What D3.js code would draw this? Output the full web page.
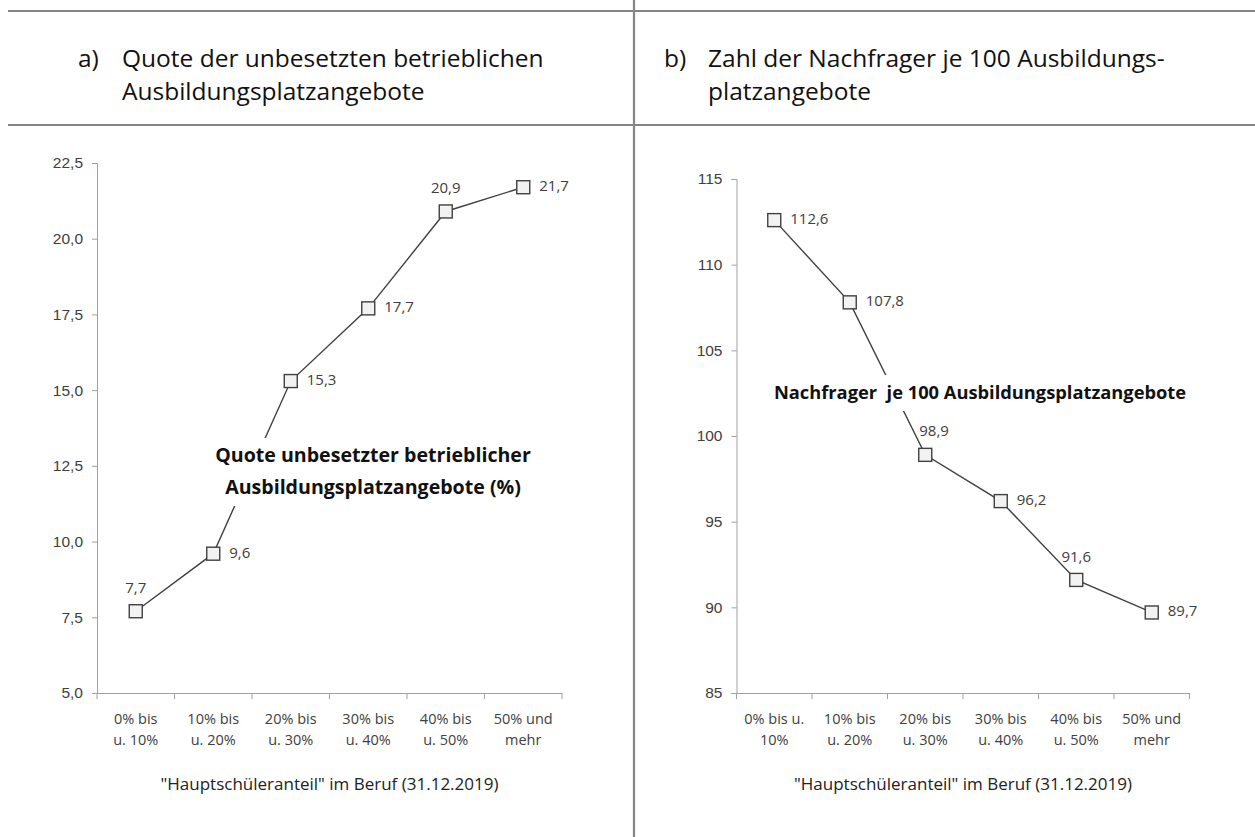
<!DOCTYPE html>
<html>
<head>
<meta charset="utf-8">
<script src="https://cdn.jsdelivr.net/npm/d3@7"></script>
<style>
  body { margin: 0; background: #fff; }
  svg { display: block; font-family: "Open Sans", "Noto Sans", sans-serif; }
</style>
</head>
<body>
<div id="chart"></div>
<script>
// Chart data
const categoriesA = [["0% bis", "u. 10%"], ["10% bis", "u. 20%"], ["20% bis", "u. 30%"], ["30% bis", "u. 40%"], ["40% bis", "u. 50%"], ["50% und", "mehr"]];
const categoriesB = [["0% bis u.", "10%"], ["10% bis", "u. 20%"], ["20% bis", "u. 30%"], ["30% bis", "u. 40%"], ["40% bis", "u. 50%"], ["50% und", "mehr"]];
const quoteUnbesetzt = [7.7, 9.6, 15.3, 17.7, 20.9, 21.7];
const nachfragerJe100 = [112.6, 107.8, 98.9, 96.2, 91.6, 89.7];
const ticksA = [5, 7.5, 10, 12.5, 15, 17.5, 20, 22.5];
const ticksB = [85, 90, 95, 100, 105, 110, 115];
const xAxisTitle = '"Hauptschüleranteil" im Beruf (31.12.2019)';

const W = 1255, H = 837;
const fmt = d3.format(",.1f");
const comma = v => fmt(v).replace(".", ",");

const svg = d3.select("#chart").append("svg")
  .attr("width", W)
  .attr("height", H);

// Frame lines (table-like layout)
const frame = svg.append("g").attr("stroke", "#858585").attr("stroke-width", 2.2);
frame.append("line").attr("x1", 8).attr("x2", W).attr("y1", 11).attr("y2", 11);
frame.append("line").attr("x1", 8).attr("x2", W).attr("y1", 125).attr("y2", 125);
frame.append("line").attr("x1", 634).attr("x2", 634).attr("y1", 0).attr("y2", H);

// Panel headings
function heading(x, letter, lines) {
  const g = svg.append("g").attr("fill", "#111").attr("font-size", 24.5);
  g.append("text").attr("x", x).attr("y", 67).text(letter);
  lines.forEach((t, i) => {
    g.append("text").attr("x", x + 44).attr("y", 67 + i * 33).text(t);
  });
}
heading(78, "a)", ["Quote der unbesetzten betrieblichen", "Ausbildungsplatzangebote"]);
heading(664, "b)", ["Zahl der Nachfrager je 100 Ausbildungs-", "platzangebote"]);

/**
 * Draw one line chart panel
 */
function drawPanel(opt) {
  const x = d3.scaleBand()
    .domain(d3.range(opt.values.length))
    .range([opt.left, opt.right])
    .paddingInner(0).paddingOuter(0);
  const y = d3.scaleLinear()
    .domain(opt.domain)
    .range([opt.bottom, opt.top]);

  const g = svg.append("g");

  // Y axis
  const yAxis = g.append("g")
    .attr("transform", `translate(${opt.left},0)`)
    .call(d3.axisLeft(y).tickValues(opt.ticks).tickSize(5).tickPadding(9).tickFormat(opt.tickFmt));
  // X axis
  const xAxis = g.append("g")
    .attr("transform", `translate(0,${opt.bottom})`)
    .call(d3.axisBottom(x).tickSize(0).tickFormat(""));
  // category boundary ticks
  xAxis.selectAll(".bound")
    .data(d3.range(opt.values.length + 1))
    .enter().append("line")
    .attr("class", "bound")
    .attr("x1", i => opt.left + i * x.step())
    .attr("x2", i => opt.left + i * x.step())
    .attr("y1", 0).attr("y2", 6);

  [yAxis, xAxis].forEach(a => {
    a.select(".domain").attr("stroke", "#a0a0a0");
    a.selectAll("line").attr("stroke", "#a0a0a0");
    a.selectAll("text").attr("fill", "#404040").attr("font-size", 15.5).attr("font-family", null);
  });

  // Category labels
  const cat = g.append("g").attr("fill", "#404040").attr("font-size", 14.5).attr("text-anchor", "middle");
  opt.categories.forEach((lines, i) => {
    lines.forEach((t, j) => {
      cat.append("text")
        .attr("x", x(i) + x.bandwidth() / 2)
        .attr("y", opt.bottom + 31 + j * 21)
        .text(t);
    });
  });

  // X axis title
  g.append("text")
    .attr("x", (opt.left + opt.right) / 2)
    .attr("y", opt.bottom + 97)
    .attr("text-anchor", "middle")
    .attr("font-size", 17)
    .attr("fill", "#222")
    .text(xAxisTitle);

  const cx = i => x(i) + x.bandwidth() / 2;

  // Series line
  g.append("path")
    .datum(opt.values)
    .attr("fill", "none")
    .attr("stroke", "#404040")
    .attr("stroke-width", 1.4)
    .attr("d", d3.line().x((d, i) => cx(i)).y(d => y(d)));

  // Annotation with white box (covers the line behind it)
  const ann = g.append("g").attr("font-weight", "bold").attr("font-size", opt.annSize)
    .attr("fill", "#111").attr("text-anchor", "middle");
  ann.append("rect")
    .attr("x", opt.ann.x - opt.ann.w / 2).attr("y", opt.ann.y - 19)
    .attr("width", opt.ann.w).attr("height", opt.ann.h)
    .attr("fill", "#fff");
  opt.ann.lines.forEach((t, i) => {
    ann.append("text")
      .attr("x", opt.ann.x)
      .attr("y", opt.ann.y + i * 32)
      .attr("dominant-baseline", "middle")
      .text(t);
  });

  // Markers
  const s = 13;
  g.selectAll(".mk")
    .data(opt.values)
    .enter().append("rect")
    .attr("x", (d, i) => cx(i) - s / 2)
    .attr("y", d => y(d) - s / 2)
    .attr("width", s).attr("height", s)
    .attr("fill", "#f2f2f2")
    .attr("stroke", "#404040")
    .attr("stroke-width", 1.4);

  // Data labels
  g.selectAll(".lbl")
    .data(opt.values)
    .enter().append("text")
    .attr("font-size", 15)
    .attr("fill", "#404040")
    .attr("dominant-baseline", "middle")
    .attr("text-anchor", (d, i) => opt.labelPos[i] === "above" ? "middle" : "start")
    .attr("x", (d, i) => {
      const p = opt.labelPos[i];
      if (p === "above") return cx(i);
      if (p === "aboveRight") return cx(i) - 6;
      return cx(i) + 16;
    })
    .attr("y", (d, i) => {
      const p = opt.labelPos[i];
      if (p === "above") return y(d) - 22;
      if (p === "aboveRight") return y(d) - 23;
      return y(d);
    })
    .text(d => comma(d));
}

drawPanel({
  values: quoteUnbesetzt,
  categories: categoriesA,
  domain: [5, 22.5],
  ticks: ticksA,
  tickFmt: v => comma(v),
  left: 97, right: 562, top: 163, bottom: 693,
  labelPos: ["above", "right", "right", "right", "above", "right"],
  annSize: 19.6,
  ann: { x: 373, y: 457, w: 345, h: 68, lines: ["Quote unbesetzter betrieblicher", "Ausbildungsplatzangebote (%)"] }
});

drawPanel({
  values: nachfragerJe100,
  categories: categoriesB,
  domain: [85, 115],
  ticks: ticksB,
  tickFmt: d3.format("d"),
  left: 736.5, right: 1189.5, top: 179, bottom: 693,
  labelPos: ["right", "right", "aboveRight", "right", "above", "right"],
  annSize: 18.3,
  ann: { x: 980, y: 394, w: 440, h: 36, lines: ["Nachfrager\u00a0 je 100 Ausbildungsplatzangebote"] }
});
</script>
</body>
</html>
